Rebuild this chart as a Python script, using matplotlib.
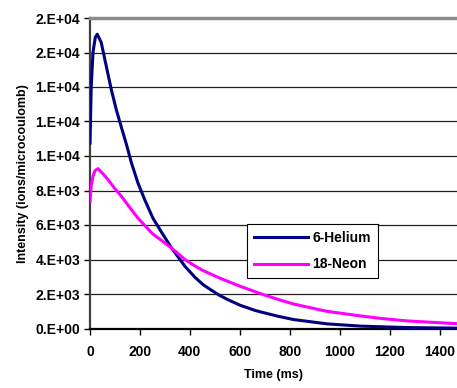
import matplotlib
matplotlib.use("Agg")
import matplotlib.pyplot as plt
from matplotlib.ticker import FuncFormatter, MultipleLocator

plt.rcParams['font.family'] = ['Liberation Sans', 'DejaVu Sans']
plt.rcParams['font.weight'] = 'bold'

# values
helium_t = [0, 5, 12, 21, 29, 45, 65, 85, 105, 126, 146, 166, 192, 219, 252, 290, 327,
            381, 421, 454, 515, 554, 601, 661, 681, 750, 815, 948, 1082, 1269, 1469]
helium_i = [10750, 14060, 16000, 16870, 17060, 16580, 15220, 13870, 12700, 11650, 10670,
            9600, 8440, 7470, 6400, 5500, 4660, 3593, 2960, 2530, 1950, 1660, 1350, 1050,
            970, 720, 520, 270, 140, 55, 20]

neon_t = [0, 5, 12, 20, 32, 50, 72, 100, 126, 160, 192, 250, 327, 381, 421, 454, 515,
          554, 601, 681, 750, 815, 948, 1082, 1162, 1269, 1469]
neon_i = [7370, 8300, 8830, 9150, 9270, 9000, 8630, 8100, 7660, 7000, 6400, 5500, 4660,
          3990, 3620, 3350, 2950, 2720, 2450, 2030, 1700, 1420, 1000, 730, 590, 440, 280]

fig = plt.figure(figsize=(4.57, 3.88), dpi=100)
ax = fig.add_axes([90 / 457, 59.5 / 388, 367 / 457, 310.5 / 388])

ax.plot(helium_t, helium_i, color='#000080', lw=2.2, label='6-Helium', zorder=3)
ax.plot(neon_t, neon_i, color='#FF00FF', lw=2.2, label='18-Neon', zorder=3)

ax.set_xlim(0, 1470)
ax.set_ylim(0, 18000)
ax.xaxis.set_major_locator(MultipleLocator(200))
ax.yaxis.set_major_locator(MultipleLocator(2000))


def excel_sci(v, pos):
    # mimic Excel "0.E+00" number format
    if v == 0:
        return '0.E+00'
    exp = len(str(int(abs(v)))) - 1
    mant = round(v / 10 ** exp)
    if mant >= 10:
        mant, exp = 1, exp + 1
    return f'{mant}.E+{exp:02d}'


ax.yaxis.set_major_formatter(FuncFormatter(excel_sci))
ax.grid(axis='y', color='#202020', lw=0.9)
ax.set_axisbelow(True)

ax.spines['right'].set_visible(False)
ax.spines['top'].set_color('#8c8c8c')
ax.spines['top'].set_linewidth(2.5)
ax.spines['left'].set_color('#404040')
ax.spines['left'].set_linewidth(1.6)
ax.spines['bottom'].set_color('#000000')
ax.spines['bottom'].set_linewidth(1.6)

ax.tick_params(axis='both', direction='out', length=4, width=1, labelsize=10)
ax.tick_params(axis='y', pad=3)
ax.tick_params(axis='x', pad=8)

ax.set_xlabel('Time (ms)', fontsize=9, fontweight='bold', labelpad=7)
ax.set_ylabel('Intensity (ions/microcoulomb)', fontsize=9, fontweight='bold', labelpad=5)

leg = ax.legend(loc='upper left', bbox_to_anchor=(247 / 457, 1 - 224 / 388),
                bbox_transform=fig.transFigure, fancybox=False, framealpha=1,
                edgecolor='black', prop={'weight': 'bold', 'size': 10},
                handlelength=3.9, handletextpad=0.3, labelspacing=0.9,
                borderpad=0.5, borderaxespad=0)
leg.get_frame().set_linewidth(0.8)

fig.savefig('out.png', dpi=100)
